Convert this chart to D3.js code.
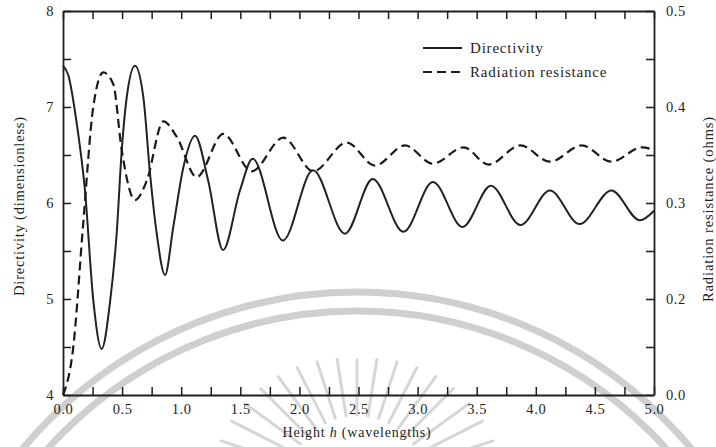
<!DOCTYPE html>
<html><head><meta charset="utf-8">
<script src="https://cdn.jsdelivr.net/npm/d3@7"></script>
<style>
html,body{margin:0;padding:0;background:#fff;}
svg{display:block;}
text{font-family:"Liberation Serif","Times New Roman",serif;fill:#1e1e1e;}
</style></head>
<body>
<svg id="chart" width="716" height="447"></svg>
<script>
// ---- data ----
const heightDir = [0, 0.045, 0.116, 0.186, 0.256, 0.327, 0.40, 0.454, 0.497, 0.539, 0.609, 0.68, 0.736, 0.793, 0.863, 0.933, 1.018, 1.117, 1.229, 1.354, 1.497, 1.605, 1.86, 2.115, 2.386, 2.62, 2.88, 3.13, 3.38, 3.62, 3.87, 4.12, 4.37, 4.64, 4.88, 5.0];
const directivity = [7.43, 7.33, 6.83, 6.13, 4.99, 4.48, 4.99, 5.68, 6.55, 7.10, 7.43, 7.10, 6.31, 5.68, 5.25, 5.75, 6.37, 6.70, 6.23, 5.51, 6.13, 6.46, 5.61, 6.34, 5.68, 6.25, 5.70, 6.22, 5.75, 6.18, 5.77, 6.13, 5.78, 6.13, 5.82, 5.92];

const heightRes = [0, 0.087, 0.17, 0.256, 0.341, 0.425, 0.497, 0.61, 0.708, 0.849, 0.962, 1.131, 1.356, 1.596, 1.864, 2.118, 2.40, 2.64, 2.893, 3.13, 3.39, 3.60, 3.87, 4.12, 4.39, 4.64, 4.9, 5.0];
const resistance = [0.10, 0.15, 0.277, 0.40, 0.436, 0.424, 0.355, 0.303, 0.323, 0.385, 0.369, 0.327, 0.372, 0.333, 0.368, 0.333, 0.363, 0.339, 0.36, 0.341, 0.358, 0.34, 0.36, 0.343, 0.36, 0.343, 0.358, 0.355];

const xTickValues = [0, 0.5, 1, 1.5, 2, 2.5, 3, 3.5, 4, 4.5, 5];
const xTickLabels = ["0.0", "0.5", "1.0", "1.5", "2.0", "2.5", "3.0", "3.5", "4.0", "4.5", "5.0"];
const leftTickValues = [4, 5, 6, 7, 8];
const leftTickLabels = ["4", "5", "6", "7", "8"];
const rightTickValues = [0.1, 0.2, 0.3, 0.4, 0.5];
const rightTickLabels = ["0.0", "0.2", "0.3", "0.4", "0.5"];
const legendLabels = ["Directivity", "Radiation resistance"];

// ---- layout ----
const L = 63, R = 654, T = 11, B = 395;
const svg = d3.select("#chart");

const x = d3.scaleLinear().domain([0, 5]).range([L, R]);
const yL = d3.scaleLinear().domain([4, 8]).range([B, T]);
const yR = d3.scaleLinear().domain([0.1, 0.5]).range([B, T]);

// ---- faint watermark (background scan artefact) ----
const wm = svg.append("g").attr("fill", "none").attr("stroke", "#cfcfcf");
[435, 416].forEach(r => {
  wm.append("circle").attr("cx", 357).attr("cy", 727).attr("r", r).attr("stroke-width", 7);
});
d3.range(-72, 73, 9).forEach(a => {
  const rad = a * Math.PI / 180;
  const r1 = 70, r2 = 125 + Math.abs(a) * 0.25;
  wm.append("line")
    .attr("x1", 357 + r1 * Math.sin(rad)).attr("y1", 485 - r1 * Math.cos(rad))
    .attr("x2", 357 + r2 * Math.sin(rad)).attr("y2", 485 - r2 * Math.cos(rad))
    .attr("stroke", "#d6d6d6").attr("stroke-width", 3).attr("stroke-linecap", "round");
});

// ---- axes ----
const tickFont = 14.5;
function styleAxis(g) {
  g.selectAll("path.domain").attr("stroke", "#1e1e1e").attr("stroke-width", 1.8);
  g.selectAll(".tick line").attr("stroke", "#1e1e1e").attr("stroke-width", 1.5);
  g.selectAll(".tick text").attr("font-size", tickFont).attr("font-family", "Liberation Serif").attr("fill", "#1e1e1e").attr("letter-spacing", 0.6);
}
const xMinor = d3.range(0, 5.001, 0.25);

svg.append("g").attr("transform", `translate(0,${B})`)
  .call(d3.axisBottom(x).tickValues(xMinor).tickSizeInner(-8).tickSizeOuter(0).tickPadding(9)
    .tickFormat(d => { const i = xTickValues.findIndex(v => Math.abs(v - d) < 1e-6); return i >= 0 ? xTickLabels[i] : ""; }))
  .call(styleAxis);

svg.append("g").attr("transform", `translate(0,${T})`)
  .call(d3.axisTop(x).tickValues(xMinor).tickSizeInner(-8).tickSizeOuter(0).tickFormat(""))
  .call(styleAxis);

const leftMinor = d3.range(4, 8.001, 0.5);
svg.append("g").attr("transform", `translate(${L},0)`)
  .call(d3.axisLeft(yL).tickValues(leftMinor).tickSizeInner(-8).tickSizeOuter(0).tickPadding(9)
    .tickFormat(d => { const i = leftTickValues.findIndex(v => Math.abs(v - d) < 1e-6); return i >= 0 ? leftTickLabels[i] : ""; }))
  .call(styleAxis);

const rightMinor = d3.range(0.1, 0.5001, 0.05);
svg.append("g").attr("transform", `translate(${R},0)`)
  .call(d3.axisRight(yR).tickValues(rightMinor).tickSizeInner(-8).tickSizeOuter(0).tickPadding(12)
    .tickFormat(d => { const i = rightTickValues.findIndex(v => Math.abs(v - d) < 1e-6); return i >= 0 ? rightTickLabels[i] : ""; }))
  .call(styleAxis);

// ---- curves ----
const dirData = heightDir.map((h, i) => [h, directivity[i]]);
const resData = heightRes.map((h, i) => [h, resistance[i]]);

svg.append("path").datum(dirData)
  .attr("fill", "none").attr("stroke", "#222").attr("stroke-width", 2)
  .attr("d", d3.line().x(d => x(d[0])).y(d => yL(d[1])).curve(d3.curveMonotoneX));

svg.append("path").datum(resData)
  .attr("fill", "none").attr("stroke", "#1a1a1a").attr("stroke-width", 2.2)
  .attr("stroke-dasharray", "9,5")
  .attr("d", d3.line().x(d => x(d[0])).y(d => yR(d[1])).curve(d3.curveMonotoneX));

// ---- legend ----
const legend = svg.append("g");
legend.append("line").attr("x1", 423).attr("x2", 462).attr("y1", 48).attr("y2", 48)
  .attr("stroke", "#1e1e1e").attr("stroke-width", 2);
legend.append("line").attr("x1", 423).attr("x2", 462).attr("y1", 72).attr("y2", 72)
  .attr("stroke", "#1e1e1e").attr("stroke-width", 2).attr("stroke-dasharray", "9,5");
legend.append("text").attr("x", 470).attr("y", 53).attr("font-size", 15).attr("letter-spacing", 0.8).text(legendLabels[0]);
legend.append("text").attr("x", 470).attr("y", 77).attr("font-size", 15).attr("letter-spacing", 0.8).text(legendLabels[1]);

// ---- axis titles ----
const xt = svg.append("text").attr("x", 357).attr("y", 437).attr("text-anchor", "middle")
  .attr("font-size", 14).attr("letter-spacing", 0.8);
xt.append("tspan").text("Height ");
xt.append("tspan").attr("font-style", "italic").text("h");
xt.append("tspan").text(" (wavelengths)");

svg.append("text").attr("transform", "translate(24,206) rotate(-90)").attr("text-anchor", "middle")
  .attr("font-size", 14.5).attr("letter-spacing", 0.8).text("Directivity (dimensionless)");

svg.append("text").attr("transform", "translate(713,209) rotate(-90)").attr("text-anchor", "middle")
  .attr("font-size", 14.5).attr("letter-spacing", 0.9).text("Radiation resistance (ohms)");
</script>
</body></html>
